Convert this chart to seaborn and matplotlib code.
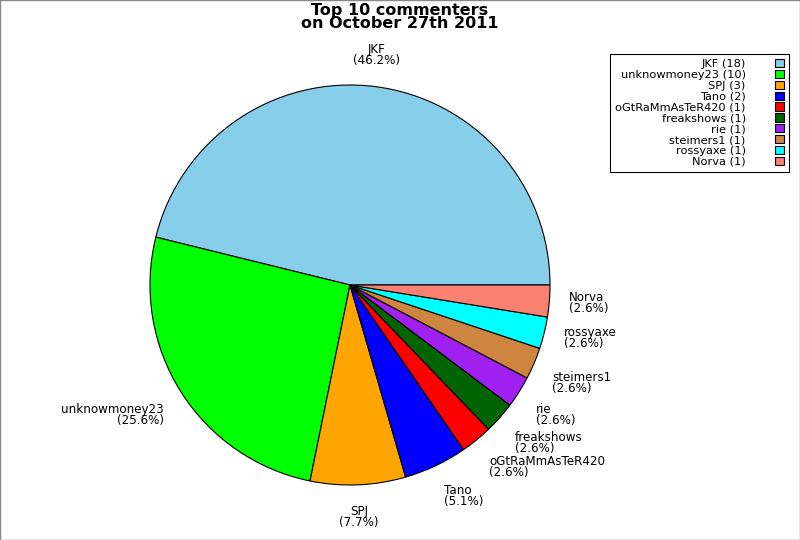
import numpy as np
import matplotlib
matplotlib.use("Agg")
import matplotlib.pyplot as plt
import seaborn as sns

names = ['JKF', 'unknowmoney23', 'SPJ', 'Tano', 'oGtRaMmAsTeR420',
         'freakshows', 'rie', 'steimers1', 'rossyaxe', 'Norva']
counts = [18, 10, 3, 2, 1, 1, 1, 1, 1, 1]
colors = ['#87CEEB', '#00FF00', '#FFA500', '#0000FF', '#FF0000',
          '#006400', '#A020F0', '#CD853F', '#00FFFF', '#FA8072']

sns.set_style("white")
plt.rcParams['font.family'] = ['DejaVu Sans']
plt.rcParams['text.color'] = 'black'

fig = plt.figure(figsize=(8, 5.4), dpi=100)
ax = fig.add_axes([150 / 800, 55 / 540, 400 / 800, 400 / 540])

total = sum(counts)
labels = ['%s\n(%.1f%%)' % (n, c * 100.0 / total) for n, c in zip(names, counts)]

wedges, texts = ax.pie(counts, labels=labels, colors=colors, startangle=0,
                       counterclock=True, labeldistance=1.1,
                       wedgeprops=dict(edgecolor='black', linewidth=0.8),
                       textprops=dict(fontsize=8.6, linespacing=0.8,
                                      color='black'))
ax.set_xlim(-1, 1)
ax.set_ylim(-1, 1)
ax.set_aspect('equal')
ax.axis('off')

# label alignment depends on where the wedge points
for w, t in zip(wedges, texts):
    ang = np.deg2rad((w.theta1 + w.theta2) / 2)
    c, s = np.cos(ang), np.sin(ang)
    if abs(c) < 0.2:
        t.set_ha('center')
        t.set_multialignment('center')
    elif c > 0:
        t.set_multialignment('left')
    else:
        t.set_multialignment('right')
    if s < -0.3:
        t.set_va('top')
    elif s > 0.3:
        t.set_va('bottom')

leg_labels = ['%s (%d)' % (n, c) for n, c in zip(names, counts)]
leg = fig.legend(wedges, leg_labels, loc='upper right',
                 bbox_to_anchor=(789 / 800, 1 - 54 / 540), borderaxespad=0,
                 markerfirst=False, fancybox=False, fontsize=8.2,
                 labelspacing=0.06, handlelength=0.75, handleheight=0.75,
                 handletextpad=2.6, borderpad=0.45, edgecolor='black',
                 framealpha=1)
leg.get_frame().set_linewidth(0.8)

fig.text(0.5, 0.995, 'Top 10 commenters\non October 27th 2011', ha='center',
         va='top', fontsize=11.5, fontweight='bold', linespacing=0.88)

fig.patches.append(plt.Rectangle((0, 0), 1, 1, transform=fig.transFigure,
                                 fill=False, edgecolor='#888888', linewidth=1))

fig.savefig('out.png', dpi=100)
